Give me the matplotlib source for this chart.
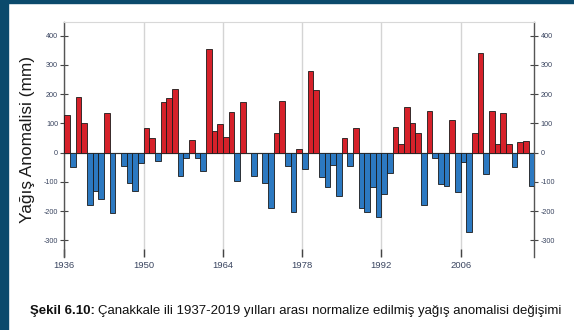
import numpy as np
import matplotlib
matplotlib.use("Agg")
from matplotlib import pyplot as plt
from matplotlib.patches import Rectangle

# yearly precipitation anomaly (mm)
years = np.arange(1937, 2020)
anomaly = [129, -48, 192, 103, -179, -130, -160, 135, -207, 0,
           -45, -103, -132, -34, 86, 49, -30, 172, 186, 217,
           -79, -17, 44, -18, -63, 355, 75, 97, 52, 140,
           -96, 174, 0, -79, 0, -103, -190, 66, 178, -46,
           -204, 14, -56, 280, 214, -84, -116, -42, -147, 49,
           -44, 86, -188, -204, -116, -219, -141, -68, 87, 28,
           157, 103, 68, -179, 144, -17, -107, -114, 112, -136,
           -31, -273, 66, 340, -73, 144, 30, 135, 30, -48,
           35, 39, -114]
xticks = [1936, 1950, 1964, 1978, 1992, 2006]
yticks = [-300, -200, -100, 0, 100, 200, 300, 400]

plt.rcParams['font.family'] = ['Liberation Sans', 'DejaVu Sans']

fig = plt.figure(figsize=(5.74, 3.30), dpi=100)

# dark slide border on the left and top
fig.patches.append(Rectangle((0, 0), 7.5 / 574, 1, transform=fig.transFigure,
                             color='#0b4a6c', zorder=0))
fig.patches.append(Rectangle((0, 1 - 2.5 / 330), 1, 2.5 / 330, transform=fig.transFigure,
                             color='#0b4a6c', zorder=0))

ax = fig.add_axes([64.3 / 574, 1 - 256.7 / 330, 470 / 574, 235 / 330])

anomaly = np.array(anomaly)
colors = np.where(anomaly >= 0, '#d6212a', '#2c79c1')
ax.bar(years - 1, anomaly, width=1, align='edge', color=colors,
       edgecolor='#1a1a1a', linewidth=0.6, zorder=3)
ax.axhline(0, color='#9a9a9a', linewidth=1, zorder=2)

ax.set_xlim(1936, 2019)
ax.set_ylim(-356, 448)

ax.set_xticks(xticks)
ax.set_xticklabels([str(t) for t in xticks], fontsize=6.8, color='#3a4560')
ax.tick_params(axis='x', direction='in', length=6, width=1, color='#444444', pad=3)
ax.grid(axis='x', color='#d4d4d4', linewidth=1, zorder=0)

ax.set_yticks(yticks)
ax.set_yticklabels([str(t) for t in yticks], fontsize=5.2, color='#3a4560')
ax.tick_params(axis='y', direction='inout', length=6, width=0.8, color='#444444',
               left=True, right=True, labelleft=True, labelright=True, pad=1.5)

for side in ['left', 'right']:
    ax.spines[side].set_color('#555555')
    ax.spines[side].set_linewidth(1)
ax.spines['top'].set_color('#d8d8d8')
ax.spines['bottom'].set_visible(False)

ax.set_ylabel('Yağış Anomalisi (mm)', fontsize=12.4, color='#1a1a1a', labelpad=6)

# caption: bold figure number followed by regular text
cap_y = 1 - 311 / 330
t1 = fig.text(30 / 574, cap_y, 'Şekil 6.10:', fontsize=9.5, fontweight='bold',
              ha='left', va='center', color='#111111')
fig.canvas.draw()
bb = t1.get_window_extent()
fig.text((bb.x1 + 3) / 574, cap_y,
         'Çanakkale ili 1937-2019 yılları arası normalize edilmiş yağış anomalisi değişimi',
         fontsize=9.5, ha='left', va='center', color='#111111')

fig.savefig('out.png', dpi=100)
